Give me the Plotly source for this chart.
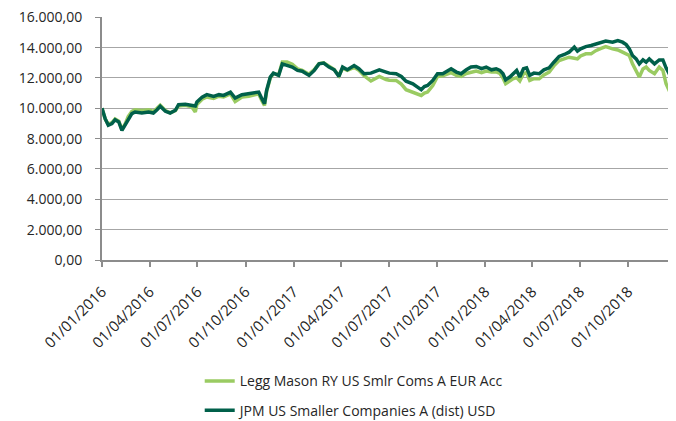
import pandas as pd
import plotly.graph_objects as go

# values (index level, start = 10.000)
dates = [
    '2016-01-01', '2016-01-07', '2016-01-13', '2016-01-20', '2016-01-26', '2016-02-02',
    '2016-02-08', '2016-02-14', '2016-02-20', '2016-02-27', '2016-03-04', '2016-03-17',
    '2016-03-30', '2016-04-08', '2016-04-15', '2016-04-21', '2016-05-01', '2016-05-10',
    '2016-05-20', '2016-05-26', '2016-06-08', '2016-06-20', '2016-06-27', '2016-06-30',
    '2016-07-10', '2016-07-19', '2016-08-01', '2016-08-11', '2016-08-20', '2016-09-02',
    '2016-09-11', '2016-09-24', '2016-10-07', '2016-10-17', '2016-10-26', '2016-11-01',
    '2016-11-06', '2016-11-10', '2016-11-17', '2016-11-23', '2016-12-03', '2016-12-10',
    '2016-12-19', '2016-12-29', '2017-01-08', '2017-01-17', '2017-01-30', '2017-02-09',
    '2017-02-18', '2017-02-27', '2017-03-09', '2017-03-19', '2017-03-28', '2017-04-04',
    '2017-04-13', '2017-04-26', '2017-05-05', '2017-05-15', '2017-05-28', '2017-06-13',
    '2017-06-26', '2017-07-02', '2017-07-15', '2017-07-25', '2017-08-03', '2017-08-16',
    '2017-08-25', '2017-09-01', '2017-09-07', '2017-09-13', '2017-09-23', '2017-10-02',
    '2017-10-12', '2017-10-18', '2017-10-28', '2017-11-07', '2017-11-16', '2017-11-26',
    '2017-12-05', '2017-12-15', '2017-12-25', '2018-01-03', '2018-01-13', '2018-01-22',
    '2018-01-29', '2018-02-04', '2018-02-09', '2018-02-17', '2018-02-23', '2018-03-02',
    '2018-03-08', '2018-03-15', '2018-03-21', '2018-03-27', '2018-04-04', '2018-04-14',
    '2018-04-23', '2018-05-03', '2018-05-12', '2018-05-22', '2018-06-01', '2018-06-10',
    '2018-06-20', '2018-06-26', '2018-07-02', '2018-07-12', '2018-07-22', '2018-07-31',
    '2018-08-10', '2018-08-19', '2018-09-01', '2018-09-11', '2018-09-20', '2018-09-27',
    '2018-10-03', '2018-10-09', '2018-10-16', '2018-10-22', '2018-10-29', '2018-11-04',
    '2018-11-10', '2018-11-20', '2018-11-29', '2018-12-06', '2018-12-12', '2018-12-18',
    '2018-12-25', '2018-12-31',
]

legg_mason = [
    10000, 9300, 8950, 9050, 9300, 9150,
    8600, 8950, 9450, 9800, 9900, 9850,
    9900, 9800, 10000, 10200, 9850, 9700,
    9850, 10150, 10200, 10100, 9760, 10250,
    10600, 10750, 10650, 10800, 10750, 10950,
    10450, 10750, 10800, 10850, 10950, 10500,
    10190, 11100, 12000, 12300, 12200, 13050,
    13050, 12900, 12600, 12500, 12250, 12550,
    12950, 13000, 12750, 12550, 12150, 12650,
    12500, 12700, 12500, 12150, 11800, 12100,
    11900, 11850, 11840, 11600, 11230, 11070,
    10950, 10850, 11000, 11070, 11500, 12100,
    12150, 12210, 12350, 12170, 12100, 12300,
    12390, 12450, 12350, 12450, 12390, 12400,
    12300, 12000, 11620, 11800, 11950, 12020,
    11800, 12280, 12350, 11840, 11950, 11950,
    12200, 12390, 12800, 13150, 13250, 13370,
    13300, 13260, 13450, 13590, 13590, 13800,
    13950, 14070, 13920, 13850, 13700, 13600,
    13480, 12930, 12390, 12060, 12600, 12720,
    12500, 12280, 12720, 12500, 11620, 11180,
    10520, 10850,
]

jpm = [
    10000, 9320, 8880, 8990, 9250, 9100,
    8550, 8880, 9320, 9650, 9760, 9690,
    9760, 9690, 9910, 10130, 9800, 9690,
    9870, 10240, 10260, 10190, 10150, 10410,
    10740, 10900, 10790, 10900, 10850, 11070,
    10670, 10900, 10960, 10980, 11070, 10630,
    10310, 11180, 12060, 12320, 12170, 12930,
    12820, 12720, 12500, 12450, 12170, 12500,
    12930, 12980, 12720, 12540, 12100, 12720,
    12540, 12820, 12610, 12280, 12320, 12540,
    12390, 12320, 12280, 12100, 11790, 11620,
    11400, 11230, 11440, 11510, 11840, 12280,
    12280, 12390, 12610, 12390, 12280, 12540,
    12720, 12760, 12610, 12720, 12540, 12610,
    12500, 12280, 11880, 12060, 12280, 12500,
    12060, 12610, 12670, 12170, 12320, 12280,
    12540, 12670, 13040, 13420, 13550, 13700,
    14030, 13770, 13920, 14070, 14140, 14250,
    14360, 14430, 14360, 14470, 14360, 14200,
    13920, 13480, 13260, 12930, 13190, 13040,
    13260, 12930, 13190, 13190, 12670, 12280,
    11620, 11510,
]

df = pd.DataFrame({'date': pd.to_datetime(dates), 'legg': legg_mason, 'jpm': jpm})

font = 'Open Sans'
grey_text = '#262626'

fig = go.Figure()
fig.add_trace(go.Scatter(x=df.date, y=df.legg, mode='lines',
                         name='Legg Mason RY US Smlr Coms A EUR Acc',
                         legendgroup='a',
                         line=dict(color='#9ACB62', width=3.5)))
fig.add_trace(go.Scatter(x=df.date, y=df.jpm, mode='lines',
                         name='JPM US Smaller Companies A (dist) USD',
                         legendgroup='b',
                         line=dict(color='#00604A', width=3.5)))

# page has an 8px body margin, so the figure is a bit smaller than the window
fig.update_layout(
    width=668, height=413,
    margin=dict(l=94, r=0, t=9, b=161, autoexpand=False),
    paper_bgcolor='white', plot_bgcolor='white',
    separators=',.',
    font=dict(family=font, size=14, color=grey_text),
    showlegend=True,
    legend=dict(xref='container', yref='container', x=0.287, y=0.1346,
                xanchor='left', yanchor='top', orientation='v',
                tracegroupgap=8, font=dict(size=14, color=grey_text)),
)

fig.update_xaxes(
    type='date', range=['2016-01-01', '2018-12-31'], automargin=False,
    tick0='2016-01-01', dtick='M3', tickformat='%d/%m/%Y', tickangle=-45,
    showgrid=False, showline=True, linecolor='#8C8C8C', linewidth=2,
    ticks='outside', ticklen=5, tickcolor='#8C8C8C', tickwidth=1.5,
    ticklabelstandoff=10, ticklabeloverflow='allow',
    tickfont=dict(size=15, color=grey_text),
)
fig.update_yaxes(
    range=[0, 16020], tickvals=[0, 2000, 4000, 6000, 8000, 10000, 12000, 14000, 16000],
    tickformat=',.2f', automargin=False,
    showgrid=True, gridcolor='#A6A6A6', gridwidth=1.2,
    showline=True, linecolor='#8C8C8C', linewidth=2,
    ticks='outside', ticklen=5, tickcolor='#8C8C8C', tickwidth=1.2,
    ticklabelstandoff=10, ticklabeloverflow='allow', zeroline=False,
    tickfont=dict(size=14, color=grey_text),
)

fig.write_html('out.html')
